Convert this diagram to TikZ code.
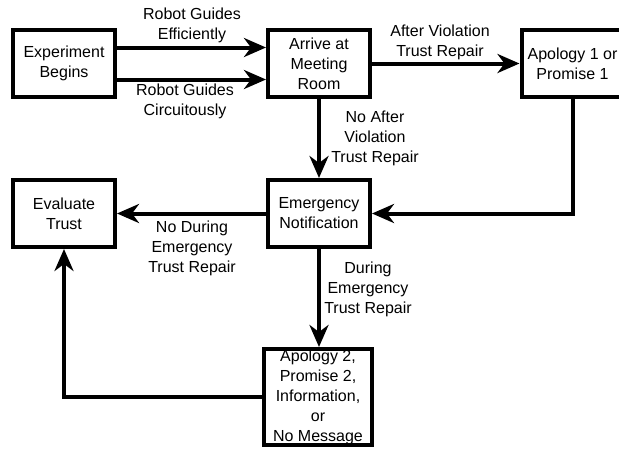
\documentclass[tikz,border=0pt]{standalone}
\usepackage{fontspec}
\setmainfont{Liberation Sans}
\usetikzlibrary{arrows.meta}
\begin{document}
\begin{tikzpicture}[x=1pt,y=-1pt,
  box/.style={draw,line width=4pt,align=center,inner sep=0pt,minimum width=102pt,minimum height=67pt,font=\fontsize{16}{20}\selectfont},
  lbl/.style={align=center,inner sep=0pt,font=\fontsize{16}{20}\selectfont},
  conn/.style={line width=4pt,-{Stealth[length=22pt,width=19pt,inset=7pt]}}]
\useasboundingbox (0,0) rectangle (619,448);
\node[box] (exp) at (64,63.5) {Experiment\\Begins};
\node[box] (arr) at (319,63.5) {Arrive at\\Meeting\\Room};
\node[box] (ap1) at (572.5,63.5) {Apology 1 or\\Promise 1};
\node[box] (em) at (319,213.5) {Emergency\\Notification};
\node[box] (ev) at (64,213.5) {Evaluate\\Trust};
\node[box,minimum width=108pt,minimum height=96pt] (ap2) at (318,397) {Apology 2,\\Promise 2,\\Information,\\or\\No Message};
\draw[conn] ([yshift=16pt]exp.east) -- ([yshift=16pt]arr.west);
\draw[conn] ([yshift=-16pt]exp.east) -- ([yshift=-16pt]arr.west);
\draw[conn] (arr) -- (ap1);
\draw[conn] (arr) -- (em);
\draw[conn] (ap1.south) |- (em.east);
\draw[conn] (em) -- (ev);
\draw[conn] (em.south) -- (em.south |- ap2.north);
\draw[conn] (ap2.west) -| (ev.south);
\node[lbl] (l1) at (192,25.5) {Robot Guides\\Efficiently};
\node[lbl] (l2) at (185,101) {Robot Guides\\Circuitously};
\node[lbl] (l3) at (440,42) {After Violation\\Trust Repair};
\node[lbl] (l4) at (375,138) {No After\\Violation\\Trust Repair};
\node[lbl] (l5) at (192,248.5) {No During\\Emergency\\Trust Repair};
\node[lbl] (l6) at (368,289) {During\\Emergency\\Trust Repair};
\end{tikzpicture}
\end{document}
